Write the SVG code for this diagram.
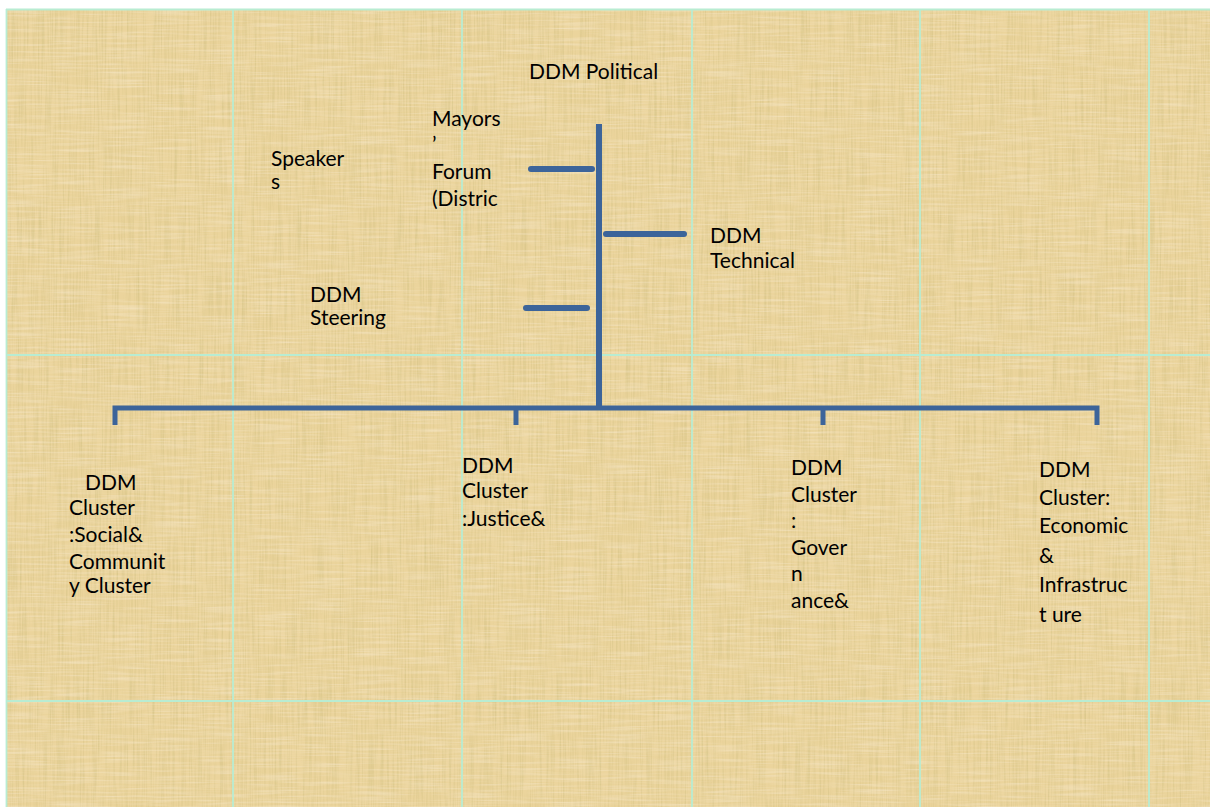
<svg xmlns="http://www.w3.org/2000/svg" width="1210" height="807" viewBox="0 0 1210 807">
  <defs>
    <filter id="papyrus" x="0" y="0" width="100%" height="100%">
      <feTurbulence type="fractalNoise" baseFrequency="0.6 0.015" numOctaves="3" seed="7" result="n1"/>
      <feColorMatrix in="n1" type="matrix" values="0 0 0 0 0.6  0 0 0 0 0.5  0 0 0 0 0.2  0 0 0 -1.6 0.95" result="c1"/>
      <feComposite in="c1" in2="SourceGraphic" operator="in"/>
    </filter>
    <filter id="fibers" x="0" y="0" width="100%" height="100%">
      <feTurbulence type="fractalNoise" baseFrequency="0.02 0.5" numOctaves="2" seed="3" result="n2"/>
      <feColorMatrix in="n2" type="matrix" values="0 0 0 0 1  0 0 0 0 0.92  0 0 0 0 0.82  0 0 0 -1.6 0.95" result="c2"/>
      <feComposite in="c2" in2="SourceGraphic" operator="in"/>
    </filter>
  </defs>
  <style>
    .grid { stroke: #b8ecd2; stroke-width: 1.8; fill: none; }
    .conn { stroke: #3c649a; stroke-width: 6; fill: none; stroke-linecap: round; }
    .bar { stroke: #3c649a; stroke-width: 5; fill: none; stroke-linecap: butt; stroke-linejoin: miter; }
    .lbl { font-family: Lato, "Liberation Sans", sans-serif; font-size: 21px; fill: #000; }
  </style>

  <g id="background">
    <rect x="0" y="0" width="1210" height="807" fill="#ffffff"/>
    <rect x="6" y="9" width="1204" height="798" fill="#ebd49c"/>
    <rect x="6" y="9" width="1204" height="798" fill="#000" filter="url(#papyrus)" opacity="0.6"/>
    <rect x="6" y="9" width="1204" height="798" fill="#000" filter="url(#fibers)" opacity="0.45"/>
    <g class="grid">
      <line x1="6.5" y1="9" x2="6.5" y2="807"/>
      <line x1="233" y1="9" x2="233" y2="807"/>
      <line x1="462" y1="9" x2="462" y2="807"/>
      <line x1="692" y1="9" x2="692" y2="807"/>
      <line x1="920" y1="9" x2="920" y2="807"/>
      <line x1="1149" y1="9" x2="1149" y2="807"/>
      <line x1="6" y1="9.5" x2="1210" y2="9.5"/>
      <line x1="6" y1="355" x2="1210" y2="355"/>
      <line x1="6" y1="701" x2="1210" y2="701"/>
    </g>
  </g>

  <g id="connectors">
    <line class="conn" x1="599" y1="124" x2="599" y2="406" style="stroke-linecap:butt"/>
    <line class="conn" x1="531" y1="169" x2="592" y2="169"/>
    <line class="conn" x1="606" y1="234" x2="684" y2="234"/>
    <line class="conn" x1="526" y1="308" x2="587" y2="308"/>
    <path class="bar" d="M115 425 V408 H1097 V425"/>
    <line class="bar" x1="516" y1="408" x2="516" y2="425"/>
    <line class="bar" x1="823" y1="408" x2="823" y2="425"/>
  </g>

  <g id="node-political">
    <text class="lbl" x="529" y="79">DDM Political</text>
  </g>
  <g id="node-mayors">
    <text class="lbl" x="432" y="126">Mayors</text>
    <text class="lbl" x="432" y="152">’</text>
    <text class="lbl" x="432" y="179">Forum</text>
    <text class="lbl" x="432" y="206">(Distric</text>
  </g>
  <g id="node-speakers">
    <text class="lbl" x="271" y="166">Speaker</text>
    <text class="lbl" x="271" y="189">s</text>
  </g>
  <g id="node-technical">
    <text class="lbl" x="710" y="243">DDM</text>
    <text class="lbl" x="710" y="268">Technical</text>
  </g>
  <g id="node-steering">
    <text class="lbl" x="310" y="302">DDM</text>
    <text class="lbl" x="310" y="325">Steering</text>
  </g>
  <g id="node-social">
    <text class="lbl" x="85" y="490">DDM</text>
    <text class="lbl" x="69" y="515">Cluster</text>
    <text class="lbl" x="69" y="542">:Social&amp;</text>
    <text class="lbl" x="69" y="569">Communit</text>
    <text class="lbl" x="69" y="593">y Cluster</text>
  </g>
  <g id="node-justice">
    <text class="lbl" x="462" y="473">DDM</text>
    <text class="lbl" x="462" y="498">Cluster</text>
    <text class="lbl" x="462" y="526">:Justice&amp;</text>
  </g>
  <g id="node-governance">
    <text class="lbl" x="791" y="475">DDM</text>
    <text class="lbl" x="791" y="502">Cluster</text>
    <text class="lbl" x="791" y="528">:</text>
    <text class="lbl" x="791" y="555">Gover</text>
    <text class="lbl" x="791" y="581">n</text>
    <text class="lbl" x="791" y="608">ance&amp;</text>
  </g>
  <g id="node-economic">
    <text class="lbl" x="1039" y="477">DDM</text>
    <text class="lbl" x="1039" y="505">Cluster:</text>
    <text class="lbl" x="1039" y="533">Economic</text>
    <text class="lbl" x="1039" y="563">&amp;</text>
    <text class="lbl" x="1039" y="592">Infrastruc</text>
    <text class="lbl" x="1039" y="622">t ure</text>
  </g>
</svg>
